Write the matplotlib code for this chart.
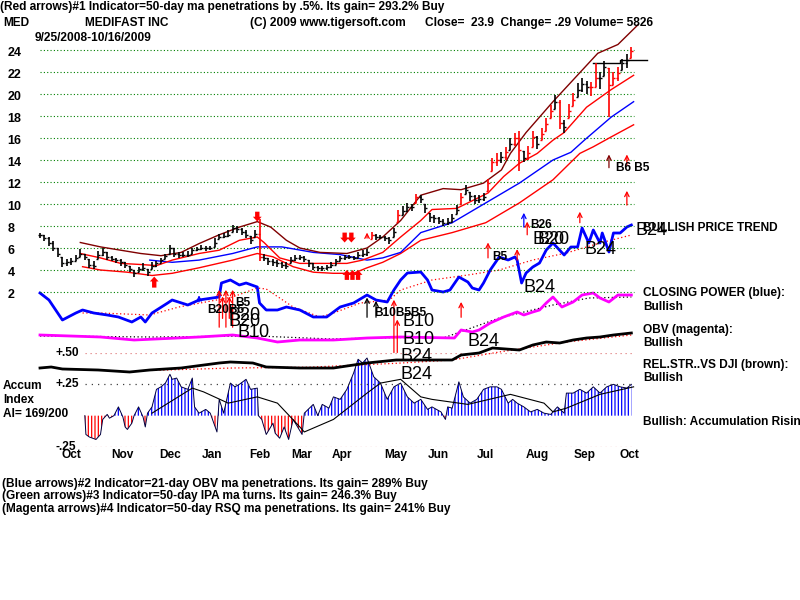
import numpy as np
import matplotlib
matplotlib.use('Agg')
import matplotlib.pyplot as plt
from matplotlib.transforms import blended_transform_factory as blend

plt.rcParams['font.family'] = ['Liberation Sans', 'DejaVu Sans']
plt.rcParams['hatch.linewidth'] = 0.9

# ---- price bars, one every 2 trading days from 9/25/2008 ----
days = np.arange(0, 265, 2)
close = [7.2, 6.9, 6.5, 6.0, 5.5, 4.6, 4.7, 4.8, 5.1, 5.5,
         5.2, 4.5, 4.4, 5.4, 5.6, 5.2, 5.0, 4.9, 4.7, 4.5,
         4.1, 3.7, 4.1, 4.2, 3.8, 4.4, 4.6, 4.9, 5.3, 6.0,
         5.5, 5.4, 5.4, 5.4, 5.8, 5.9, 6.0, 6.0, 6.0, 6.5,
         7.0, 7.1, 7.2, 7.8, 7.7, 7.5, 7.2, 6.7, 7.3, 5.2,
         5.1, 4.8, 4.7, 4.6, 4.5, 4.4, 4.9, 5.1, 5.2, 5.0,
         4.6, 4.3, 4.2, 4.2, 4.3, 4.5, 4.8, 5.1, 5.2, 5.2,
         5.1, 5.4, 5.5, 5.6, 7.2, 7.0, 7.0, 6.9, 6.7, 7.5,
         9.0, 9.4, 9.7, 9.7, 10.6, 10.5, 9.6, 8.8, 8.7, 8.5,
         8.3, 8.4, 8.7, 9.5, 10.6, 11.3, 10.7, 10.4, 10.5, 10.6,
         11.9, 13.8, 14.0, 14.3, 14.7, 15.5, 16.0, 14.9, 14.2, 14.6,
         16.1, 15.5, 16.4, 17.3, 18.5, 19.3, 17.4, 17.0, 18.5, 19.5,
         20.4, 20.9, 20.6, 20.6, 21.5, 21.5, 22.5, 20.8, 21.5, 21.9,
         22.8, 23.1, 23.9]
low = [6.9, 6.6, 6.2, 5.7, 5.2, 4.3, 4.4, 4.5, 4.8, 5.2,
       4.9, 4.2, 4.1, 5.0, 5.3, 4.9, 4.8, 4.6, 4.4, 4.2,
       3.8, 3.4, 3.8, 3.9, 3.5, 4.1, 4.3, 4.6, 5.0, 5.5,
       5.2, 5.1, 5.2, 5.2, 5.5, 5.7, 5.8, 5.7, 5.8, 6.1,
       6.8, 6.9, 7.0, 7.5, 7.4, 7.2, 6.9, 6.4, 7.0, 4.8,
       4.8, 4.5, 4.4, 4.3, 4.2, 4.1, 4.6, 4.8, 4.9, 4.7,
       4.3, 4.0, 3.9, 3.9, 4.0, 4.2, 4.5, 4.8, 4.9, 5.0,
       4.9, 5.1, 5.2, 5.3, 6.8, 6.7, 6.8, 6.6, 6.4, 7.0,
       8.4, 9.0, 9.3, 9.4, 10.1, 10.1, 9.2, 8.4, 8.3, 8.2,
       8.0, 8.1, 8.4, 9.1, 10.0, 10.9, 10.3, 10.0, 10.1, 10.3,
       11.2, 13.0, 13.5, 13.7, 14.0, 14.9, 15.3, 13.0, 13.8, 14.0,
       15.2, 15.0, 15.8, 16.6, 17.8, 18.6, 16.8, 16.5, 17.8, 18.9,
       19.7, 20.2, 20.0, 19.8, 20.6, 20.5, 21.6, 17.9, 20.8, 21.2,
       22.2, 22.4, 23.3]
high = [7.4, 7.2, 7.0, 6.6, 6.0, 5.2, 5.0, 5.1, 5.4, 5.9,
        5.5, 5.0, 4.8, 5.7, 6.0, 5.6, 5.3, 5.1, 5.0, 4.7,
        4.4, 4.0, 4.3, 4.6, 4.1, 4.7, 4.8, 5.1, 5.5, 6.3,
        6.0, 5.6, 5.6, 5.7, 6.0, 6.1, 6.3, 6.2, 6.2, 6.9,
        7.3, 7.4, 7.6, 8.1, 8.0, 7.8, 7.6, 7.1, 7.6, 8.6,
        5.5, 5.1, 5.0, 4.9, 4.7, 4.7, 5.2, 5.4, 5.4, 5.3,
        4.9, 4.6, 4.4, 4.4, 4.5, 4.7, 5.0, 5.3, 5.4, 5.4,
        5.3, 5.6, 5.8, 5.9, 7.5, 7.3, 7.2, 7.1, 7.0, 7.8,
        9.5, 9.8, 10.1, 10.0, 10.9, 10.8, 10.0, 9.2, 9.0, 8.8,
        8.6, 8.7, 9.1, 9.9, 11.0, 11.7, 11.1, 10.8, 10.8, 11.0,
        12.3, 14.2, 14.6, 14.7, 15.2, 16.0, 16.5, 16.6, 14.8, 15.3,
        16.6, 16.2, 16.9, 17.8, 19.0, 19.9, 19.5, 17.6, 19.1, 20.1,
        21.0, 21.5, 21.2, 21.1, 22.8, 22.0, 23.0, 22.4, 22.0, 22.5,
        23.2, 23.6, 24.3]
red_days = [98, 148, 160, 168, 188, 200, 202, 204, 208, 212, 214, 218, 220,
            224, 226, 228, 232, 236, 238, 246, 248, 254, 256, 258, 264]

# bands / moving averages on the price chart
up_d = [18, 27, 45, 54, 63, 71, 80, 89, 97, 103, 110, 116, 125, 137, 146, 153,
        161, 170, 180, 188, 198, 206, 210, 217, 229, 249, 258, 267]
up_v = [6.5, 6.1, 5.5, 5.3, 5.6, 6.4, 7.2, 7.9, 8.4, 7.9, 6.7, 6.0, 5.6, 5.5, 6.0, 7.0,
        8.5, 10.8, 11.4, 11.3, 11.9, 13.1, 14.6, 16.5, 19.3, 23.7, 24.5, 26.3]
mid_d = [18, 27, 36, 45, 52, 59, 71, 80, 89, 97, 100, 107, 116, 125, 137, 144, 153,
         161, 170, 175, 186, 200, 207, 214, 222, 229, 234, 244, 255, 265]
mid_v = [5.5, 5.1, 4.6, 4.5, 4.4, 4.9, 5.5, 5.8, 6.7, 7.0, 6.5, 5.1, 4.6, 4.6, 4.6, 4.9, 5.6,
         7.0, 8.5, 9.5, 9.6, 11.0, 12.5, 13.7, 14.6, 15.8, 16.5, 18.8, 20.4, 21.7]
ma50_d = [49, 59, 71, 86, 97, 108, 122, 134, 146, 153, 161, 170, 184, 199, 214,
          229, 237, 243, 255, 265]
ma50_v = [4.9, 4.7, 4.9, 5.5, 6.1, 6.1, 5.6, 5.4, 4.9, 5.1, 5.6, 7.4, 8.3, 10.1, 11.9,
          14.0, 14.7, 15.8, 17.9, 19.3]
lo_d = [19, 27, 39, 50, 59, 71, 86, 97, 104, 113, 122, 131, 140, 146, 153, 161,
        170, 184, 199, 214, 229, 241, 247, 255, 265]
lo_v = [4.3, 4.0, 3.8, 3.5, 3.7, 4.2, 4.9, 5.5, 5.2, 4.3, 3.8, 3.7, 3.7, 4.2, 4.7, 5.5,
        6.7, 7.4, 8.3, 10.1, 12.2, 14.6, 15.2, 16.1, 17.2]
res_d = [247, 259, 259, 271]
res_v = [22.8, 22.8, 23.1, 23.1]

# closing power (blue) and its ma
cp_d = [0, 4, 10, 16, 19, 24, 30, 35, 41, 45, 47, 50, 57, 59, 66, 71, 77, 80, 81, 85,
        89, 92, 97, 98, 101, 106, 110, 116, 122, 128, 134, 140, 146, 150, 155, 158, 161,
        164, 170, 173, 175, 180, 183, 187, 191, 193, 196, 198, 201, 205, 209, 212, 213,
        215, 217, 220, 223, 226, 229, 234, 237, 240, 242, 245, 247, 250, 251, 254, 256,
        259, 262, 264]
cp_v = [3.7, 3.0, 1.0, 1.7, 2.0, 1.7, 1.5, 1.3, 0.8, 1.3, 0.8, 1.7, 2.7, 3.0, 2.5, 3.0,
        3.2, 3.3, 4.7, 5.0, 4.5, 4.7, 4.3, 2.7, 2.0, 2.0, 2.3, 2.0, 1.3, 1.3, 2.3, 2.7,
        3.5, 3.0, 2.8, 4.0, 5.0, 5.7, 5.8, 5.0, 4.0, 3.8, 4.0, 5.3, 4.8, 4.2, 4.0, 4.7,
        6.0, 7.3, 7.0, 7.3, 7.0, 4.7, 5.7, 6.3, 6.7, 8.0, 8.7, 7.5, 8.3, 8.3, 10.2, 8.7,
        10.0, 8.7, 9.7, 7.8, 9.7, 9.7, 10.3, 10.5]
cpma_d = [19, 27, 49, 62, 86, 97, 101, 113, 125, 131, 143, 156, 161, 175, 191, 205,
          220, 235, 250, 264]
cpma_v = [1.7, 1.7, 1.5, 2.3, 3.3, 4.2, 4.1, 2.3, 1.3, 1.7, 2.7, 3.0, 4.0, 5.0, 5.5, 6.0,
          7.0, 7.7, 8.7, 9.5]

# OBV (magenta) and its ma
obv_d = [0, 27, 42, 71, 86, 97, 106, 116, 131, 146, 161, 185, 188, 193, 196, 201, 207,
         213, 216, 220, 223, 226, 229, 233, 238, 242, 247, 250, 254, 258, 264]
obv_v = [2.0, 1.6, 1.0, 1.6, 2.0, 1.4, 0.6, 1.0, 1.0, 1.4, 1.6, 1.4, 3.0, 2.6, 3.0, 4.4,
         5.6, 6.6, 6.0, 6.6, 7.0, 8.4, 9.6, 7.6, 8.6, 10.0, 10.4, 9.4, 8.6, 10.0, 10.0]
obvma_d = [0, 50, 97, 130, 160, 180, 205, 229, 245, 264]
obvma_v = [1.8, 1.6, 1.8, 1.2, 1.5, 1.4, 5.4, 8.0, 9.4, 9.6]

# relative strength vs DJI and its ma
rs_d = [0, 5, 10, 26, 40, 49, 63, 80, 85, 95, 101, 116, 131, 146, 159, 184, 188, 196,
        202, 214, 220, 226, 232, 238, 244, 250, 256, 264]
rs_v = [1.0, 1.25, 0.75, 0.5, 0.0, 0.5, 1.0, 2.25, 2.5, 2.25, 1.25, 1.0, 1.0, 2.25, 3.0,
        3.0, 4.25, 4.75, 6.0, 5.5, 6.75, 7.5, 7.25, 8.0, 8.5, 8.75, 9.25, 9.75]
rsma_d = [50, 86, 120, 160, 184, 205, 235, 264]
rsma_v = [0.4, 1.0, 1.2, 2.2, 3.0, 5.0, 7.5, 9.25]

# accumulation index
ai_d = [20, 20.5, 22, 25, 27, 28, 30, 31, 33, 35,
        37, 38, 39, 41, 42, 44, 46, 47, 48, 50,
        52, 54, 56, 58, 59, 61, 63, 66, 68, 69,
        71, 74, 76, 79, 80, 82, 85, 87, 89, 92,
        94, 97, 97.5, 99, 101, 104, 105, 107, 109, 111,
        113, 115, 117, 118, 122, 124, 126, 129, 131, 134,
        137, 140, 142, 144, 146, 149, 152, 155, 158, 161,
        164, 167, 170, 173, 175, 179, 181, 182, 184, 187,
        189, 192, 195, 198, 201, 204, 206, 209, 211, 213,
        216, 219, 222, 225, 228, 231, 234, 235, 238, 241,
        244, 247, 250, 253, 256, 259, 262, 264]
ai_v = [0, -0.15, -0.17, -0.19, -0.15, -0.03, 0.01, -0.02, 0.0, 0.07,
        -0.01, -0.09, -0.11, -0.06, 0, 0.07, -0.01, -0.09, 0.02, 0.07,
        0.21, 0.23, 0.26, 0.33, 0.29, 0.30, 0.23, 0.21, 0.30, 0.07,
        0.02, 0.05, 0.02, -0.13, 0.13, 0.02, 0.26, 0.23, 0.25, 0.29,
        0.21, 0.22, 0, -0.03, -0.15, -0.06, -0.14, -0.18, -0.09, -0.19,
        -0.03, -0.09, -0.15, 0.02, 0.09, 0, 0.09, 0.06, 0.15, 0.13,
        0.21, 0.34, 0.45, 0.42, 0.46, 0.31, 0.26, 0.13, 0.23, 0.26,
        0.15, 0.10, 0.13, 0.05, 0.07, 0.03, -0.03, 0.07, 0.06, 0.27,
        0.15, 0.10, 0.13, 0.21, 0.23, 0.23, 0.21, 0.10, 0.13, 0.10,
        0.07, 0.03, 0.05, 0.02, 0.01, 0.07, 0.02, 0.18, 0.18, 0.21,
        0.18, 0.23, 0.18, 0.23, 0.25, 0.23, 0.22, 0.25]
aima_d = [50, 68, 73, 84, 97, 106, 116, 118, 131, 146, 152, 161, 170, 175, 191, 210,
          225, 229, 235, 250, 265]
aima_v = [0.02, 0.22, 0.19, 0.10, 0.15, 0.10, -0.09, -0.13, -0.03, 0.18, 0.26, 0.29,
          0.15, 0.13, 0.09, 0.17, 0.10, 0.03, 0.06, 0.17, 0.23]

month_labels = ['Oct', 'Nov', 'Dec', 'Jan', 'Feb', 'Mar', 'Apr', 'May', 'Jun', 'Jul',
                'Aug', 'Sep', 'Oct']
month_days = [14, 37, 58, 77, 98, 117, 135, 159, 178, 199, 222, 243, 263]
grid_levels = [2, 4, 6, 8, 10, 12, 14, 16, 18, 20, 22, 24]

# signal arrows on the price scale: (day, tail, head, colour, thick)
arrows = [(51, 2.4, 3.4, 'red', True), (97, 9.3, 8.4, 'red', True),
          (136, 7.4, 6.5, 'red', True), (139, 7.4, 6.5, 'red', True),
          (137, 3.1, 4.0, 'red', True), (139.5, 3.1, 4.0, 'red', True),
          (142, 3.1, 4.0, 'red', True), (146, 6.9, 7.4, 'red', False),
          (200, 5.1, 6.5, 'red', False), (213, 4.9, 5.9, 'red', False),
          (216, 7.9, 9.2, 'blue', False), (217.5, 7.2, 8.4, 'red', False),
          (241, 8.3, 9.3, 'red', False), (254, 13.3, 14.5, '#800000', False),
          (262, 13.5, 14.5, 'red', False), (262, 9.9, 11.2, 'red', False),
          (188, -0.3, 1.1, 'red', False), (80, -1.2, 2.2, 'red', False),
          (83, -1.2, 2.2, 'red', False), (86, -1.2, 2.2, 'red', False),
          (81.5, -0.4, 1.6, 'red', False), (84.5, -0.4, 1.6, 'red', False),
          (71, 1.1, 1.7, 'blue', False), (146, -0.3, 1.5, 'black', False),
          (150, -0.3, 1.2, 'black', False), (158, -3.5, 1.3, 'red', False),
          (159.5, -3.5, -0.5, 'red', False)]
small_tags = [(202, 5.2, 'B5'), (219, 8.1, 'B26'), (257, 13.3, 'B6 B5'),
              (74.5, 0.4, 'B20B5'), (87, 1.0, 'B5'), (149, 0.1, 'B10B5B5')]
big_tags = [(216, 2.4, 'B24'), (220, 6.8, 'B20'), (222, 6.8, 'B20'), (243, 5.9, 'B24'),
            (266, 7.6, 'B24'), (191, -2.5, 'B24'), (162, -0.7, 'B10'), (162, -2.3, 'B10'),
            (161, -3.9, 'B24'), (161, -5.5, 'B24'), (84, -0.1, 'B20'), (84, -0.7, 'B20'),
            (88, -1.7, 'B10')]

fig = plt.figure(figsize=(8, 6), dpi=100)
fig.patch.set_facecolor('white')
XLO, XHI = -40 / 2.24, 760 / 2.24


def panel(top, bottom, ylo, yhi):
    ax = fig.add_axes([0, 1 - bottom / 600, 1, (bottom - top) / 600])
    ax.set_xlim(XLO, XHI)
    ax.set_ylim(ylo, yhi)
    ax.set_axis_off()
    return ax


dots = (0, (1, 2))
bold = dict(fontweight='bold', fontsize=8.6)

# accumulation index
ax_ai = panel(353, 447, -0.25, 0.5)
ai_arr = np.array(ai_v)
ax_ai.fill_between(ai_d, 0, ai_arr, where=ai_arr >= 0, interpolate=True,
                   facecolor='none', edgecolor='#0000ff', hatch='|||||', lw=0)
ax_ai.fill_between(ai_d, 0, ai_arr, where=ai_arr <= 0, interpolate=True,
                   facecolor='none', edgecolor='#ff0000', hatch='|||||', lw=0)
ax_ai.plot(ai_d, ai_v, color='#000040', lw=0.7)
ax_ai.plot(aima_d, aima_v, color='black', lw=0.8)
ax_ai.hlines([0.5, -0.25], 20, 265, colors='#e08080', linestyles=(0, (1, 3)), lw=0.9)
ax_ai.hlines([0.25], 20, 265, colors='#404040', linestyles=(0, (1, 4)), lw=0.9)
for lvl, s in [(0.5, '+.50'), (0.25, '+.25'), (-0.25, '-.25')]:
    ax_ai.text(7, lvl, s, va='center', **bold)

# relative strength
ax_rs = panel(330, 372, 0, 10.5)
ax_rs.plot(rsma_d, rsma_v, color='red', ls=dots, lw=0.9, clip_on=False)
ax_rs.plot(rs_d, rs_v, color='black', lw=2, clip_on=False)

# OBV
ax_obv = panel(290, 345, 0, 11)
ax_obv.plot(obvma_d, obvma_v, color='black', ls=dots, lw=0.9, clip_on=False)
ax_obv.plot(obv_d, obv_v, color='#ff00ff', lw=2, clip_on=False)

# closing power
ax_cp = panel(220, 330, 0, 11)
ax_cp.plot(cpma_d, cpma_v, color='red', ls=dots, lw=0.9, clip_on=False)
ax_cp.plot(cp_d, cp_v, color='#0000ff', lw=2, clip_on=False)

# price chart
ax = panel(39, 314, 0, 25)
ax.hlines(grid_levels, 0, 265, colors='#008000', linestyles=dots, lw=0.8)
for lvl in grid_levels:
    ax.text(-14.5, lvl - 0.25, str(lvl), va='center', fontweight='bold', fontsize=9)
ax.plot(lo_d, lo_v, color='red', lw=1)
ax.plot(ma50_d, ma50_v, color='#0000ff', lw=1)
ax.plot(mid_d, mid_v, color='red', lw=1)
ax.plot(up_d, up_v, color='#800000', lw=1, clip_on=False)
ax.plot(res_d, res_v, color='black', lw=1)

cols = ['red' if d in red_days else 'black' for d in days]
opens = np.clip([close[0]] + close[:-1], low, high)
ax.vlines(days, low, high, colors=cols, lw=1.2)
ax.hlines(close, days, days + 0.9, colors=cols, lw=1)
ax.hlines(opens, days - 0.9, days, colors=cols, lw=1)

thick_style = 'simple,head_length=0.5,head_width=0.9,tail_width=0.45'
for d, tail, head, c, thick in arrows:
    if thick:
        props = dict(arrowstyle=thick_style, color=c, lw=0, shrinkA=0, shrinkB=0,
                     mutation_scale=7)
    else:
        props = dict(arrowstyle='->', color=c, lw=0.9, shrinkA=0, shrinkB=0,
                     mutation_scale=8)
    ax.annotate('', xy=(d, head), xytext=(d, tail), annotation_clip=False,
                arrowprops=props)
for d, y, s in small_tags:
    ax.text(d, y, s, va='center', **bold)
for d, y, s in big_tags:
    ax.text(d, y, s, va='center', fontsize=13)

tr = blend(ax.transData, fig.transFigure)
for d, s in zip(month_days, month_labels):
    ax.text(d, 1 - 455 / 600, s, transform=tr, ha='center', va='center', **bold)


def ftext(x, y, s, **kw):
    fig.text(x / 800, 1 - y / 600, s, va='center', **kw)


ftext(0, 7, '(Red arrows)#1 Indicator=50-day ma penetrations by .5%. Its gain= 293.2% Buy', **bold)
ftext(3, 23, 'MED', **bold)
ftext(85, 23, 'MEDIFAST INC', **bold)
ftext(250, 23, '(C) 2009 www.tigersoft.com', **bold)
ftext(425, 23, 'Close=  23.9  Change= .29 Volume= 5826', **bold)
ftext(35, 38, '9/25/2008-10/16/2009', **bold)
ftext(643, 228, 'BULLISH PRICE TREND', **bold)
ftext(643, 293, 'CLOSING POWER (blue):', **bold)
ftext(643, 307, 'Bullish', **bold)
ftext(643, 330, 'OBV (magenta):', **bold)
ftext(643, 343, 'Bullish', **bold)
ftext(643, 365, 'REL.STR..VS DJI (brown):', **bold)
ftext(643, 378, 'Bullish', **bold)
ftext(643, 422, 'Bullish: Accumulation Rising', **bold)
ftext(3, 386, 'Accum', **bold)
ftext(3, 400, 'Index', **bold)
ftext(3, 414, 'AI= 169/200', **bold)
ftext(2, 484, '(Blue arrows)#2 Indicator=21-day OBV ma penetrations. Its gain= 289% Buy', **bold)
ftext(2, 496, '(Green arrows)#3 Indicator=50-day IPA ma turns. Its gain= 246.3% Buy', **bold)
ftext(2, 509, '(Magenta arrows)#4 Indicator=50-day RSQ ma penetrations. Its gain= 241% Buy', **bold)

fig.savefig('out.png', dpi=100)
